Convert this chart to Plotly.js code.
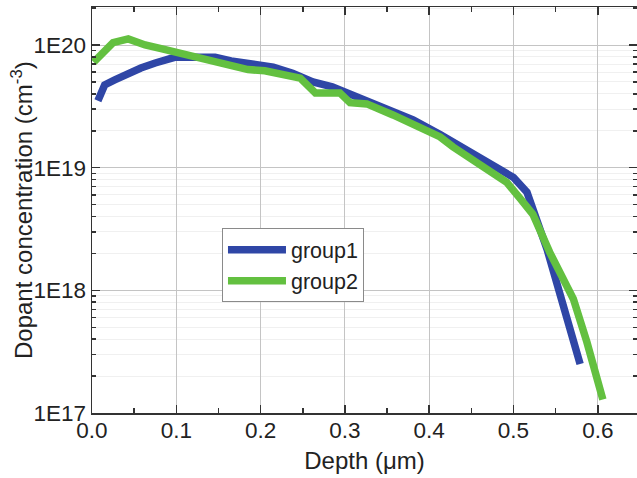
<!DOCTYPE html>
<html>
<head>
<meta charset="utf-8">
<script src="https://cdn.plot.ly/plotly-3.0.1.min.js"></script>
<style>html,body{margin:0;padding:0;background:#fff;}#chart{width:637px;height:478px;}</style>
</head>
<body>
<div id="chart"></div>
<script>
// Depth (µm) and dopant concentration (cm^-3)
const group1Depth = [0.007, 0.015, 0.027, 0.043, 0.058, 0.075, 0.087, 0.098, 0.126, 0.146, 0.165, 0.185, 0.205, 0.215, 0.238, 0.262, 0.285, 0.294, 0.318, 0.330, 0.357, 0.381, 0.413, 0.428, 0.448, 0.468, 0.488, 0.500, 0.516, 0.540, 0.579];
const group1Conc  = [3.51e19, 4.73e19, 5.19e19, 5.89e19, 6.50e19, 7.14e19, 7.69e19, 7.94e19, 7.94e19, 7.94e19, 7.41e19, 7.14e19, 6.92e19, 6.61e19, 5.89e19, 5.01e19, 4.57e19, 4.31e19, 3.72e19, 3.47e19, 2.85e19, 2.45e19, 1.86e19, 1.62e19, 1.32e19, 1.10e19, 9.33e18, 8.32e18, 6.31e18, 2.14e18, 2.51e17];

const group2Depth = [0.002, 0.025, 0.043, 0.063, 0.082, 0.102, 0.122, 0.146, 0.165, 0.185, 0.205, 0.223, 0.247, 0.265, 0.285, 0.294, 0.306, 0.326, 0.357, 0.389, 0.413, 0.428, 0.468, 0.492, 0.508, 0.523, 0.543, 0.571, 0.587, 0.606];
const group2Conc  = [7.24e19, 1.047e20, 1.122e20, 1.0e20, 9.33e19, 8.61e19, 7.94e19, 7.14e19, 6.61e19, 6.31e19, 6.17e19, 5.89e19, 5.37e19, 4.07e19, 4.07e19, 4.07e19, 3.39e19, 3.31e19, 2.69e19, 2.14e19, 1.78e19, 1.48e19, 1.0e19, 7.59e18, 5.60e18, 4.17e18, 2.04e18, 8.51e17, 3.80e17, 1.29e17];

const seriesNames = ['group1', 'group2'];
const yTickVals = [1e17, 1e18, 1e19, 1e20];
const yTickText = ['1E17', '1E18', '1E19', '1E20'];
const xTitle = 'Depth (μm)';
const yTitle = 'Dopant concentration (cm<sup>-3</sup>)';

const yMinor = [];
for (let d = 17; d <= 20; d++) for (let k = 2; k <= 9; k++) yMinor.push(k * Math.pow(10, d));

const FONT = '"Liberation Sans", Arial, sans-serif';

const traces = [
  {x: group1Depth, y: group1Conc, name: seriesNames[0], type: 'scatter', mode: 'lines',
   line: {color: '#2f46a6', width: 7.5}},
  {x: group2Depth, y: group2Conc, name: seriesNames[1], type: 'scatter', mode: 'lines',
   line: {color: '#63c040', width: 7.5}}
];

const layout = {
  width: 637, height: 478,
  margin: {l: 92, r: 0, t: 7, b: 65},
  paper_bgcolor: '#fff', plot_bgcolor: '#fff',
  font: {family: FONT, color: '#222', size: 21},
  showlegend: true,
  legend: {x: 0.2385, y: 0.455, xanchor: 'left', yanchor: 'top',
           bgcolor: '#fff', bordercolor: '#8a8a8a', borderwidth: 1, itemwidth: 58,
           font: {family: FONT, size: 21.5, color: '#222'}, tracegroupgap: 0},
  xaxis: {
    range: [0, 0.6465], tick0: 0, dtick: 0.1, tickformat: '.1f',
    ticks: 'inside', ticklen: 8, tickwidth: 1.5, tickcolor: '#333',
    showline: true, linecolor: '#333', linewidth: 1.5, mirror: 'ticks',
    showgrid: true, gridcolor: '#c4c4c4', gridwidth: 1, zeroline: false,
    tickfont: {family: FONT, size: 22.5, color: '#222'},
    ticklabelstandoff: -4,
    minor: {dtick: 0.05, ticks: 'inside', ticklen: 5, tickwidth: 1.5, tickcolor: '#333', showgrid: false},
    title: {text: xTitle, font: {family: FONT, size: 24, color: '#222'}, standoff: 10}
  },
  yaxis: {
    type: 'log', range: [17, 20.31],
    tickmode: 'array', tickvals: yTickVals, ticktext: yTickText,
    ticks: 'inside', ticklen: 8, tickwidth: 1.5, tickcolor: '#333',
    showline: true, linecolor: '#333', linewidth: 1.5, mirror: 'ticks',
    showgrid: true, gridcolor: '#c4c4c4', gridwidth: 1, zeroline: false,
    tickfont: {family: FONT, size: 22.5, color: '#222'},
    minor: {tickmode: 'array', tickvals: yMinor, ticks: 'inside', ticklen: 4, tickwidth: 1.5, tickcolor: '#333',
            showgrid: true, gridcolor: '#f0f0f0', gridwidth: 1}
  },
  annotations: [
    {text: yTitle, xref: 'paper', yref: 'paper', x: 0, y: 0.5, xanchor: 'center', yanchor: 'middle',
     xshift: -70, textangle: -90, showarrow: false, font: {family: FONT, size: 24, color: '#222'}}
  ]
};

Plotly.newPlot('chart', traces, layout, {displayModeBar: false, staticPlot: true});
</script>
</body>
</html>
